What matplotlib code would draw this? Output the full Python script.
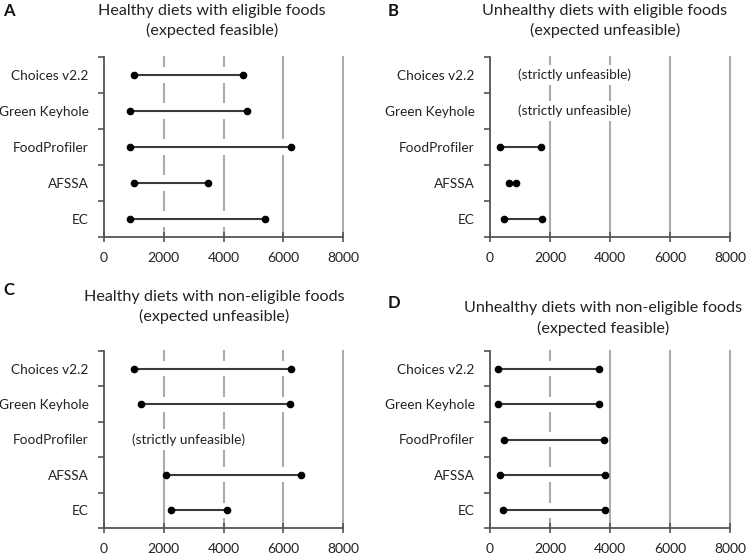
import numpy as np
import matplotlib
matplotlib.use('Agg')
import matplotlib.pyplot as plt

plt.rcParams['font.family'] = ['Lato', 'DejaVu Sans']

# categories top to bottom
categories = ['Choices v2.2', 'Green Keyhole', 'FoodProfiler', 'AFSSA', 'EC']

# feasible energy ranges (None = strictly unfeasible)
a_low = [1000, 870, 870, 1000, 870]
a_high = [4650, 4770, 6250, 3490, 5400]
b_low = [None, None, 330, 640, 470]
b_high = [None, None, 1700, 870, 1740]
c_low = [1000, 1250, None, 2070, 2230]
c_high = [6250, 6240, None, 6610, 4110]
d_low = [260, 260, 480, 330, 420]
d_high = [3630, 3620, 3810, 3830, 3830]

panel_letters = ['A', 'B', 'C', 'D']
titles = [('Healthy diets with eligible foods', '(expected feasible)'),
          ('Unhealthy diets with eligible foods', '(expected unfeasible)'),
          ('Healthy diets with non-eligible foods', '(expected unfeasible)'),
          ('Unhealthy diets with non-eligible foods', '(expected feasible)')]
x_ticks = [0, 2000, 4000, 6000, 8000]

W, H = 746, 555


def rect(l, t, r, b):
    return [l / W, 1 - b / H, (r - l) / W, (b - t) / H]


def draw_panel(ax, low, high):
    y = np.arange(len(categories))
    ax.set_xlim(0, 8000)
    ax.set_ylim(len(categories) - 0.5, -0.5)
    for xv in x_ticks[1:]:
        ax.axvline(xv, color='#ababab', lw=1.5, zorder=0, clip_on=False)
    for i in y:
        if low[i] is None:
            ax.text(950, i, '(strictly unfeasible)', ha='left', va='center',
                    fontsize=9.8, color='#222222', zorder=3,
                    bbox=dict(facecolor='white', edgecolor='none', pad=3))
            continue
        ax.barh(i, high[i] - low[i], left=low[i], height=0.42,
                color='white', zorder=1)
        ax.plot([low[i], high[i]], [i, i], color='#3a3a3a', lw=1.5,
                zorder=2, solid_capstyle='butt')
        ax.plot([low[i], high[i]], [i, i], 'o', color='black', ms=4.5,
                zorder=3)
    for s in ['top', 'right']:
        ax.spines[s].set_visible(False)
    for s in ['left', 'bottom']:
        ax.spines[s].set_color('#555555')
        ax.spines[s].set_linewidth(1.3)
    ax.set_xticks(x_ticks)
    ax.set_xticklabels([str(v) for v in x_ticks])
    ax.tick_params(axis='x', direction='inout', length=7, width=1.2,
                   color='#555555', labelsize=10, pad=7, labelcolor='#222222')
    ax.set_yticks(np.arange(-0.5, len(categories), 1.0))
    ax.set_yticklabels([])
    ax.tick_params(axis='y', which='major', direction='out', length=4,
                   width=1.2, color='#555555')
    ax.set_yticks(y, minor=True)
    ax.set_yticklabels(categories, minor=True)
    ax.tick_params(axis='y', which='minor', length=0, pad=11,
                   labelsize=9.8, labelcolor='#222222')


fig = plt.figure(figsize=(W / 100, H / 100), dpi=100)

axes_px = [(104, 57, 343, 237), (490, 57, 730, 237),
           (104, 351, 343, 528), (490, 351, 730, 528)]
data = [(a_low, a_high), (b_low, b_high), (c_low, c_high), (d_low, d_high)]
title_x = [212, 605, 214, 603]
title_y = [(11, 30), (11, 30), (297, 316), (308, 328)]
letter_pos = [(3, 11), (388, 11), (3, 290), (388, 303)]

for k in range(4):
    ax = fig.add_axes(rect(*axes_px[k]))
    draw_panel(ax, *data[k])
    for line, ty in zip(titles[k], title_y[k]):
        fig.text(title_x[k] / W, 1 - ty / H, line, ha='center', va='center',
                 fontsize=11.6, color='#222222')
    lx, ly = letter_pos[k]
    fig.text(lx / W, 1 - ly / H, panel_letters[k], ha='left', va='center',
             fontsize=12, fontweight='bold', color='#111111')

fig.savefig('out.png', dpi=100)
